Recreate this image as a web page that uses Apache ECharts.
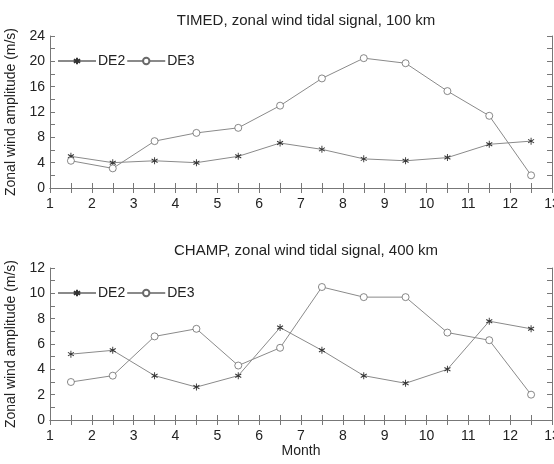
<!DOCTYPE html>
<html><head><meta charset="utf-8">
<script src="https://cdn.jsdelivr.net/npm/echarts@6/dist/echarts.min.js"></script>
<style>html,body{margin:0;padding:0;background:#fff}#c{width:554px;height:464px}</style>
</head><body><div id="c"></div>
<script>
const months = [1.5,2.5,3.5,4.5,5.5,6.5,7.5,8.5,9.5,10.5,11.5,12.5];
const timedDE2 = [5.0,4.0,4.3,4.0,5.0,7.1,6.1,4.6,4.3,4.8,6.9,7.4];
const timedDE3 = [4.3,3.1,7.4,8.7,9.5,13.0,17.3,20.5,19.7,15.3,11.4,2.0];
const champDE2 = [5.2,5.5,3.5,2.6,3.5,7.3,5.5,3.5,2.9,4.0,7.8,7.2];
const champDE3 = [3.0,3.5,6.6,7.2,4.3,5.7,10.5,9.7,9.7,6.9,6.3,2.0];
const titles = ['TIMED, zonal wind tidal signal, 100 km','CHAMP, zonal wind tidal signal, 400 km'];
const yAxisName = 'Zonal wind amplitude (m/s)';
const xAxisName = 'Month';

const FONT = '"Liberation Sans", Arial, sans-serif';
const TXT = '#222';
const AX = '#777';
const star = 'path://M0 0L0 10M-4.33 2.5L4.33 7.5M-4.33 7.5L4.33 2.5';

function pairs(v){ return months.map((m,i)=>[m,v[i]]); }

const grids = [
  {left:50,right:2,top:36,height:152,outerBoundsMode:'none',containLabel:false},
  {left:50,right:2,top:268,height:152,outerBoundsMode:'none',containLabel:false}
];
const xAxes = [], yAxes = [];
[0,1].forEach(g=>{
  const base = {type:'value',min:1,max:13,interval:0.5,gridIndex:g,
    axisLine:{show:true,lineStyle:{color:AX,width:1}},
    axisTick:{show:true,inside:true,length:5,lineStyle:{color:AX}},
    splitLine:{show:false}};
  xAxes.push(Object.assign({},base,{position:'bottom',
    name: g===1?xAxisName:'', nameLocation:'middle', nameGap:19,
    nameTextStyle:{color:TXT,fontFamily:FONT,fontSize:14},
    axisLabel:{color:TXT,fontFamily:FONT,fontSize:14,margin:9,hideOverlap:false,
      formatter:v=> Number.isInteger(v)? String(v):''}}));
  xAxes.push(Object.assign({},base,{position:'top',axisLabel:{show:false}}));
  const ymax = g===0?24:12, yint = g===0?2:1, ylab = g===0?4:2;
  const yb = {type:'value',min:0,max:ymax,interval:yint,gridIndex:g,
    axisLine:{show:true,lineStyle:{color:AX,width:1}},
    axisTick:{show:true,inside:true,length:5,lineStyle:{color:AX}},
    splitLine:{show:false}};
  yAxes.push(Object.assign({},yb,{position:'left',
    name:yAxisName,nameLocation:'middle',nameGap:27,nameRotate:90,
    nameTextStyle:{color:TXT,fontFamily:FONT,fontSize:14},
    axisLabel:{color:TXT,fontFamily:FONT,fontSize:14,margin:5,
      formatter:v=> (Math.round(v)%ylab===0)? String(v):''}}));
  yAxes.push(Object.assign({},yb,{position:'right',axisLabel:{show:false}}));
});

function s2(name,data,g){
  const isStar = name==='DE2';
  return {type:'line',name:name,xAxisIndex:g*2,yAxisIndex:g*2,data:pairs(data),
    symbol: isStar?star:'circle',
    symbolSize: isStar?[6,7]:7,
    showAllSymbol:true,
    lineStyle:{color:'#8a8a8a',width:1},
    itemStyle: isStar?{color:'#333',borderColor:'#333',borderWidth:1}:{color:'#fff',borderColor:'#6a6a6a',borderWidth:0.8},
    emphasis:{disabled:true},animation:false};
}

const chart = echarts.init(document.getElementById('c'));
chart.setOption({
  animation:false,
  title:[
    {text:titles[0],left:301,top:8,textAlign:'center',textStyle:{color:TXT,fontFamily:FONT,fontSize:15,fontWeight:'normal'}},
    {text:titles[1],left:301,top:238,textAlign:'center',textStyle:{color:TXT,fontFamily:FONT,fontSize:15,fontWeight:'normal'}}
  ],
  grid:grids,
  xAxis:xAxes,
  yAxis:yAxes,
  legend:[
    {left:57,top:54,itemWidth:38,itemHeight:8,itemGap:1,padding:0,data:['DE2','DE3'],textStyle:{color:TXT,fontFamily:FONT,fontSize:14,padding:[0,0,0,-3]}},
    {left:57,top:286,itemWidth:38,itemHeight:8,itemGap:1,padding:0,data:['DE2','DE3'],textStyle:{color:TXT,fontFamily:FONT,fontSize:14,padding:[0,0,0,-3]}}
  ],
  series:[s2('DE2',timedDE2,0),s2('DE3',timedDE3,0),s2('DE2',champDE2,1),s2('DE3',champDE3,1)]
});
</script></body></html>
